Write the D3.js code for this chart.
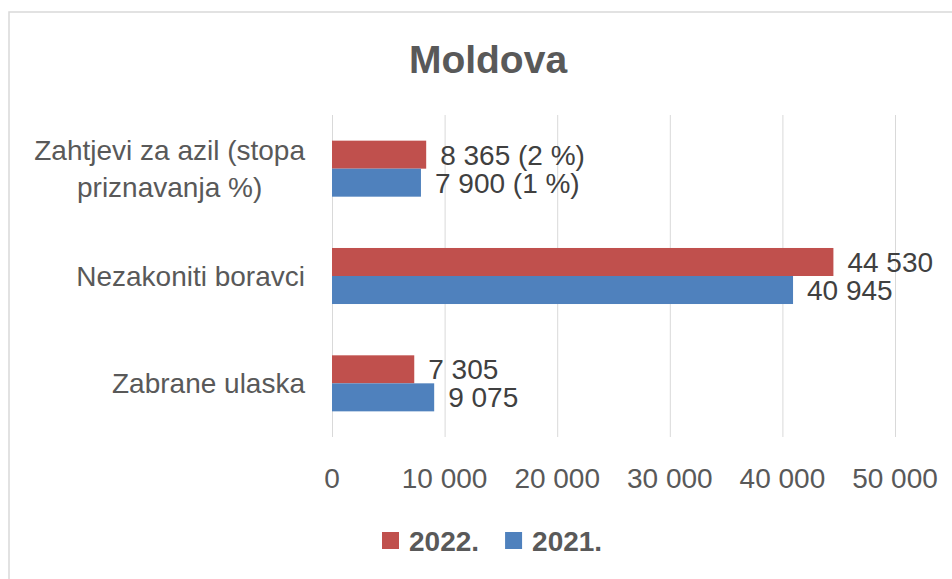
<!DOCTYPE html>
<html>
<head>
<meta charset="utf-8">
<script src="https://cdn.jsdelivr.net/npm/d3@7"></script>
<style>
  html, body { margin: 0; padding: 0; background: #fff; }
  svg { display: block; font-family: "Liberation Sans", Arial, sans-serif; }
</style>
</head>
<body>
<div id="chart"></div>
<script>
// data
const categories = ["Zahtjevi za azil (stopa priznavanja %)", "Nezakoniti boravci", "Zabrane ulaska"];
const labelLines = [["Zahtjevi za azil (stopa", "priznavanja %)"], ["Nezakoniti boravci"], ["Zabrane ulaska"]];
const seriesNames = ["2022.", "2021."];
const values2022 = [8365, 44530, 7305];
const values2021 = [7900, 40945, 9075];
const rates2022 = ["2 %", null, null];
const rates2021 = ["1 %", null, null];
const tickValues = [0, 10000, 20000, 30000, 40000, 50000];

const width = 952;
const height = 579;
const textColor = "#595959";

const locale = d3.formatLocale({ decimal: ",", thousands: " ", grouping: [3], currency: ["", ""] });
const fmt = locale.format(",d");

const color = d3.scaleOrdinal()
    .domain(seriesNames)
    .range(["#C0504D", "#4F81BD"]);

const rows = categories.map((c, i) => ({
    name: c,
    lines: labelLines[i],
    values: [
        { series: "2022.", value: values2022[i], rate: rates2022[i] },
        { series: "2021.", value: values2021[i], rate: rates2021[i] }
    ]
}));

const svg = d3.select("#chart").append("svg")
    .attr("width", width)
    .attr("height", height);

svg.append("rect")
    .attr("width", width).attr("height", height)
    .attr("fill", "#fff");

// chart frame (cut off on the right and bottom)
svg.append("rect")
    .attr("x", 9).attr("y", 12)
    .attr("width", 1000).attr("height", 600)
    .attr("fill", "none")
    .attr("stroke", "#d9d9d9")
    .attr("stroke-width", 1.5);

svg.append("text")
    .attr("x", 488).attr("y", 73)
    .attr("text-anchor", "middle")
    .attr("font-size", 39)
    .attr("font-weight", "bold")
    .attr("fill", textColor)
    .text("Moldova");

const x = d3.scaleLinear()
    .domain([0, 50000])
    .range([332, 895]);

const y = d3.scaleBand()
    .domain(categories)
    .range([115, 437])
    .paddingInner(0.478)
    .paddingOuter(0.239);

const ySub = d3.scaleBand()
    .domain(seriesNames)
    .range([0, y.bandwidth()]);

// gridlines
svg.append("g")
    .selectAll("line")
    .data(tickValues)
    .join("line")
    .attr("x1", d => x(d) + 0.5).attr("x2", d => x(d) + 0.5)
    .attr("y1", 115).attr("y2", 437)
    .attr("stroke", "#d9d9d9")
    .attr("stroke-width", 1);

// tick labels
svg.append("g")
    .selectAll("text")
    .data(tickValues)
    .join("text")
    .attr("x", d => x(d))
    .attr("y", 488)
    .attr("text-anchor", "middle")
    .attr("font-size", 28)
    .attr("fill", textColor)
    .text(d => fmt(d));

// category labels: block right aligned, lines centred inside the block
const catG = svg.append("g")
    .selectAll("g")
    .data(rows)
    .join("g");

catG.each(function (d) {
    const g = d3.select(this);
    const lineH = 37;
    const cy = y(d.name) + y.bandwidth() / 2;
    const top = cy - (d.lines.length - 1) * lineH / 2 + 10;
    const texts = g.selectAll("text")
        .data(d.lines)
        .join("text")
        .attr("y", (l, i) => top + i * lineH)
        .attr("font-size", 28)
        .attr("fill", textColor)
        .attr("text-anchor", "middle")
        .text(l => l);
    let maxW = 0;
    texts.each(function () { maxW = Math.max(maxW, this.getComputedTextLength()); });
    texts.attr("x", 305 - maxW / 2);
});

// bars
const barG = svg.append("g")
    .selectAll("g")
    .data(rows)
    .join("g")
    .attr("transform", d => `translate(0,${y(d.name)})`);

barG.selectAll("rect")
    .data(d => d.values)
    .join("rect")
    .attr("x", x(0))
    .attr("y", d => ySub(d.series))
    .attr("width", d => x(d.value) - x(0))
    .attr("height", ySub.bandwidth())
    .attr("fill", d => color(d.series));

barG.selectAll("text")
    .data(d => d.values)
    .join("text")
    .attr("x", d => x(d.value) + 14)
    .attr("y", d => ySub(d.series) + ySub.bandwidth() / 2 + 10)
    .attr("font-size", 28)
    .attr("fill", "#404040")
    .text(d => d.rate ? `${fmt(d.value)} (${d.rate})` : fmt(d.value));

// legend
const legend = svg.append("g");
let lx = 382;
seriesNames.forEach(s => {
    legend.append("rect")
        .attr("x", lx).attr("y", 532)
        .attr("width", 17).attr("height", 17)
        .attr("fill", color(s));
    const t = legend.append("text")
        .attr("x", lx + 27).attr("y", 551)
        .attr("font-size", 28)
        .attr("font-weight", "bold")
        .attr("fill", textColor)
        .text(s);
    lx += 27 + t.node().getComputedTextLength() + 26;
});
</script>
</body>
</html>
